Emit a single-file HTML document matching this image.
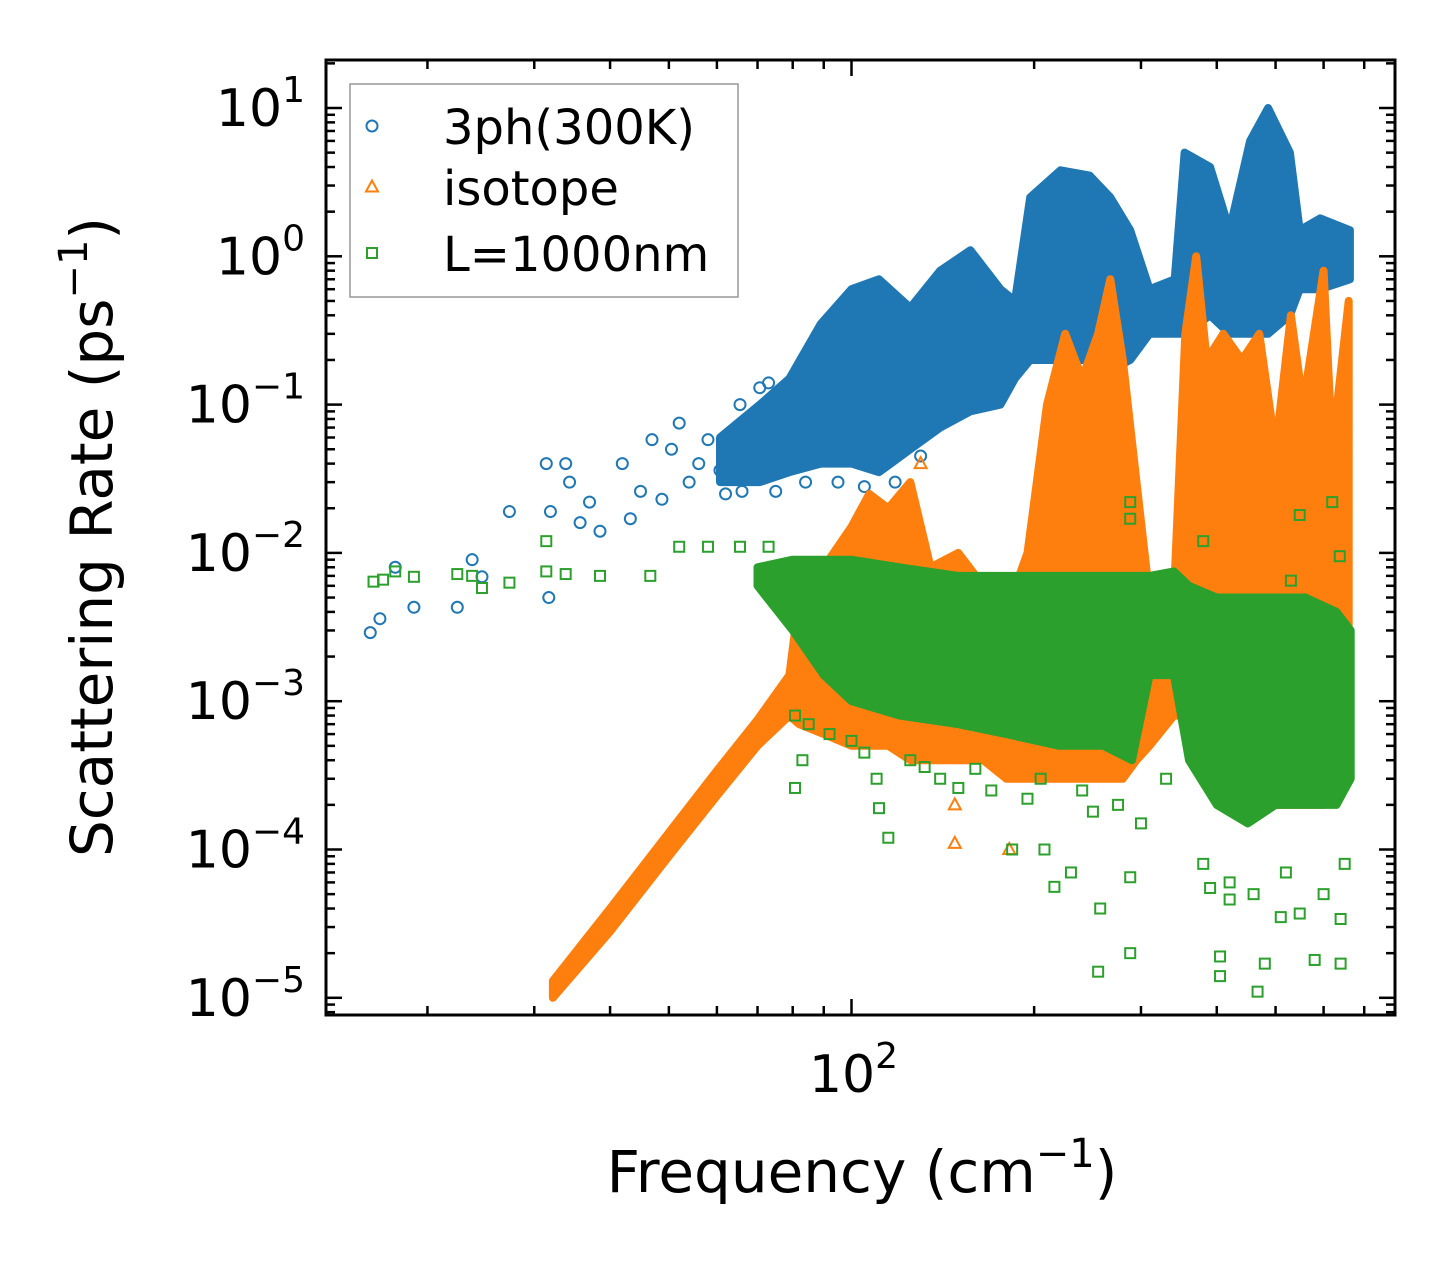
<!DOCTYPE html>
<html><head><meta charset="utf-8"><style>
body{margin:0;background:#fff;}
svg{display:block;font-family:"DejaVu Sans","Liberation Sans",sans-serif;}
</style></head><body>
<svg id="chart" width="1455" height="1265" viewBox="0 0 1455 1265"></svg>
<script>
// ---- data ----
const xTicksMajor=[100];
const xTicksMinor=[20,30,40,50,60,70,80,90,200,300,400,500,600,700];
const yTicksExp=[1,0,-1,-2,-3,-4,-5];
// band envelopes (dense regions): frequency, low, high
const ph3BandF=[60.7,70.6,79,89,100,111,125,140,157,176,186,197,221,247,267,288,310,341,354,390,420,454,486,528,548,592,663];
const ph3BandLo=[0.03,0.03,0.035,0.04,0.04,0.035,0.05,0.07,0.09,0.1,0.15,0.2,0.2,0.2,0.17,0.2,0.3,0.3,0.3,0.4,0.3,0.3,0.3,0.4,0.6,0.6,0.7];
const ph3BandHi=[0.06,0.1,0.15,0.35,0.6,0.7,0.45,0.8,1.1,0.6,0.5,2.5,3.8,3.5,2.5,1.5,0.6,0.7,5,4,1.5,6,10,5,1.5,1.8,1.5];
const isoBandF=[32.2,40,50,60,70,79,82,90,100,107,115,125,135,150,165,180,195,210,225,240,255,267,280,295,310,340,355,370,385,410,440,470,500,530,555,600,620,660];
const isoBandLo=[1.0e-5,2.8e-5,9e-5,2.3e-4,5e-4,8e-4,7e-4,6e-4,5e-4,5e-4,5e-4,4e-4,4e-4,4e-4,4e-4,3e-4,3e-4,3e-4,3e-4,3e-4,3e-4,3e-4,3e-4,4e-4,5e-4,8e-4,8e-4,5e-4,3e-4,2e-4,2e-4,2e-4,2e-4,2e-4,2e-4,2e-4,3e-4,3e-4];
const isoBandHi=[1.3e-5,4e-5,1.3e-4,3.4e-4,7.5e-4,1.5e-3,5e-3,8e-3,0.015,0.025,0.02,0.03,0.008,0.01,0.006,0.004,0.01,0.1,0.3,0.15,0.3,0.7,0.2,0.03,0.005,0.005,0.3,1.0,0.2,0.3,0.2,0.3,0.05,0.4,0.1,0.8,0.05,0.5];
const bndBandF=[70,80,90,100,120,150,180,220,260,290,310,340,360,400,450,500,560,630,665];
const bndBandLo=[6e-3,3e-3,1.5e-3,1e-3,8e-4,7e-4,6e-4,5e-4,5e-4,4e-4,1.5e-3,1.5e-3,4e-4,2e-4,1.5e-4,2e-4,2e-4,2e-4,3e-4];
const bndBandHi=[8e-3,9e-3,9e-3,9e-3,8e-3,7e-3,7e-3,7e-3,7e-3,7e-3,7e-3,7.5e-3,6e-3,5e-3,5e-3,5e-3,5e-3,4e-3,3e-3];
// sparse scatter points
const ph3F=[16.1,16.7,17.7,19.0,22.4,23.7,24.6,27.3,31.4,31.7,31.9,33.8,34.3,35.7,37,38.5,41.9,43.2,44.9,46.9,48.7,50.5,52,54,56,58,60.7,65.5,70.6,73,62,66,75,84,95,105,118,130];
const ph3R=[2.9e-3,3.6e-3,8e-3,4.3e-3,4.3e-3,9e-3,6.9e-3,0.019,0.04,5e-3,0.019,0.04,0.03,0.016,0.022,0.014,0.04,0.017,0.026,0.058,0.023,0.05,0.075,0.03,0.04,0.058,0.036,0.1,0.13,0.14,0.025,0.026,0.026,0.03,0.03,0.028,0.03,0.045];
const isoF=[148,148,182,130];
const isoR=[2e-4,1.1e-4,1e-4,0.04];
const bndF=[16.3,16.9,17.7,19.0,22.4,23.7,24.6,27.3,31.4,31.4,33.8,38.5,46.6,52,58,65.5,73,80.7,83,80.7,100,111,115,132,150,184,208,216,230,257,255,288,288,390,405,405,467,480,580,640,640,548,510,420,288,288,380,548,620,638,530,85,92,105,110,125,140,160,170,195,205,240,250,275,300,330,380,420,460,520,600,650];
const bndR=[6.4e-3,6.6e-3,7.5e-3,6.9e-3,7.2e-3,7e-3,5.8e-3,6.3e-3,0.012,7.5e-3,7.2e-3,7e-3,7e-3,0.011,0.011,0.011,0.011,8e-4,4e-4,2.6e-4,5.4e-4,1.9e-4,1.2e-4,3.6e-4,2.6e-4,1e-4,1e-4,5.6e-5,7e-5,4e-5,1.5e-5,2e-5,6.5e-5,5.5e-5,1.9e-5,1.4e-5,1.1e-5,1.7e-5,1.8e-5,1.7e-5,3.4e-5,3.7e-5,3.5e-5,4.6e-5,0.022,0.017,0.012,0.018,0.022,9.5e-3,6.5e-3,7e-4,6e-4,4.5e-4,3e-4,4e-4,3e-4,3.5e-4,2.5e-4,2.2e-4,3e-4,2.5e-4,1.8e-4,2e-4,1.5e-4,3e-4,8e-5,6e-5,5e-5,7e-5,5e-5,8e-5];

// ---- axes ----
const L=326,R=1395,T=60,B=1015;
const xs=f=>851.5+606.7*(Math.log10(f)-2);
const ys=r=>108+148.3*(1-Math.log10(r));
const NS='http://www.w3.org/2000/svg';
const svg=document.getElementById('chart');
function mk(tag,attrs,parent){const e=document.createElementNS(NS,tag);for(const k in attrs)e.setAttribute(k,attrs[k]);(parent||svg).appendChild(e);return e;}
const BLUE='#1f77b4',ORANGE='#ff7f0e',GREEN='#2ca02c';

const plot=mk('g',{'clip-path':'url(#clip)'});


const defs=mk('defs',{});const cp=mk('clipPath',{id:'clip'},defs);mk('rect',{x:L,y:T,width:R-L,height:B-T},cp);

function band(F,Lo,Hi,color,name){
  let pts=[];
  for(let i=0;i<F.length;i++)pts.push(xs(F[i]).toFixed(1)+','+ys(Hi[i]).toFixed(1));
  for(let i=F.length-1;i>=0;i--)pts.push(xs(F[i]).toFixed(1)+','+ys(Lo[i]).toFixed(1));
  const p=mk('polygon',{points:pts.join(' '),fill:color,stroke:color,'stroke-width':8,'stroke-linejoin':'round'},plot);
  
  
}
function marker(type,x,y,color,parent){
  let e;
  if(type==='o')e=mk('circle',{cx:x,cy:y,r:5.5,fill:'none',stroke:color,'stroke-width':2},parent);
  else if(type==='^')e=mk('polygon',{points:`${x},${y-6.5} ${x-6},${y+4.5} ${x+6},${y+4.5}`,fill:'none',stroke:color,'stroke-width':2},parent);
  else e=mk('rect',{x:x-5,y:y-5,width:10,height:10,fill:'none',stroke:color,'stroke-width':2},parent);
  return e;
}
function scatter(F,Rv,type,color,name){
  const g=mk('g',{},plot);
  
  
  for(let i=0;i<F.length;i++){
    const e=marker(type,xs(F[i]),ys(Rv[i]),color,g);
    
    
  }
}
band(ph3BandF,ph3BandLo,ph3BandHi,BLUE,'3ph-dense-band');
scatter(ph3F,ph3R,'o',BLUE,'3ph-series');
band(isoBandF,isoBandLo,isoBandHi,ORANGE,'isotope-dense-band');
scatter(isoF,isoR,'^',ORANGE,'isotope-series');
band(bndBandF,bndBandLo,bndBandHi,GREEN,'boundary-dense-band');
scatter(bndF,bndR,'s',GREEN,'boundary-series');

// frame
const fr=mk('rect',{x:L,y:T,width:R-L,height:B-T,fill:'none',stroke:'#000','stroke-width':3});


const tk=mk('g',{stroke:'#000','stroke-width':2.5});


xTicksMajor.forEach(v=>{const x=xs(v);mk('line',{x1:x,x2:x,y1:B,y2:B-16},tk);mk('line',{x1:x,x2:x,y1:T,y2:T+16},tk);});
xTicksMinor.forEach(v=>{const x=xs(v);mk('line',{x1:x,x2:x,y1:B,y2:B-9},tk);mk('line',{x1:x,x2:x,y1:T,y2:T+9},tk);});
yTicksExp.forEach(e=>{const y=ys(Math.pow(10,e));mk('line',{x1:L,x2:L+16,y1:y,y2:y},tk);mk('line',{x1:R,x2:R-16,y1:y,y2:y},tk);
  for(let m=2;m<=9;m++){const yy=ys(m*Math.pow(10,e-1));if(yy>T&&yy<B){mk('line',{x1:L,x2:L+9,y1:yy,y2:yy},tk);mk('line',{x1:R,x2:R-9,y1:yy,y2:yy},tk);}}
  for(let m=2;m<=9;m++){const yy=ys(m*Math.pow(10,e));if(e===1&&yy>T&&yy<B){mk('line',{x1:L,x2:L+9,y1:yy,y2:yy},tk);mk('line',{x1:R,x2:R-9,y1:yy,y2:yy},tk);}}
});
// tick labels
yTicksExp.forEach(e=>{
  const t=mk('text',{x:305,y:ys(Math.pow(10,e))+18,'text-anchor':'end','font-size':52,fill:'#000'});
  
  
  const sup=e<0?'\u2212'+(-e):String(e);
  t.innerHTML='10<tspan dy="-24" font-size="36">'+sup+'</tspan>';
});
xTicksMajor.forEach(v=>{
  const t=mk('text',{x:xs(v)+2,y:1092,'text-anchor':'middle','font-size':52,fill:'#000'});
  
  
  t.innerHTML='10<tspan dy="-24" font-size="36">2</tspan>';
});
const xl=mk('text',{x:862,y:1192,'text-anchor':'middle','font-size':58,fill:'#000'});


xl.innerHTML='Frequency (cm<tspan dy="-25" font-size="40">\u22121</tspan><tspan dy="25">)</tspan>';
const yl=mk('text',{x:0,y:0,'text-anchor':'middle','font-size':58,fill:'#000',transform:'translate(112,537) rotate(-90)'});


yl.innerHTML='Scattering Rate (ps<tspan dy="-25" font-size="40">\u22121</tspan><tspan dy="25">)</tspan>';
// legend
const lg=mk('g',{});


mk('rect',{x:350,y:84,width:388,height:213,fill:'#fff','fill-opacity':0.8,stroke:'#999','stroke-width':1.5},lg);
const legNames=['3ph(300K)','isotope','L=1000nm'],legTypes=['o','^','s'],legCols=[BLUE,ORANGE,GREEN],legY=[128,189,255];
for(let i=0;i<3;i++){
  const g=mk('g',{},lg);
  
  
  marker(legTypes[i],372,legY[i]-2,legCols[i],g);
  const t=mk('text',{x:443,y:legY[i]+16,'font-size':48,fill:'#000'},g);
  t.textContent=legNames[i];
}
</script>
</body></html>
